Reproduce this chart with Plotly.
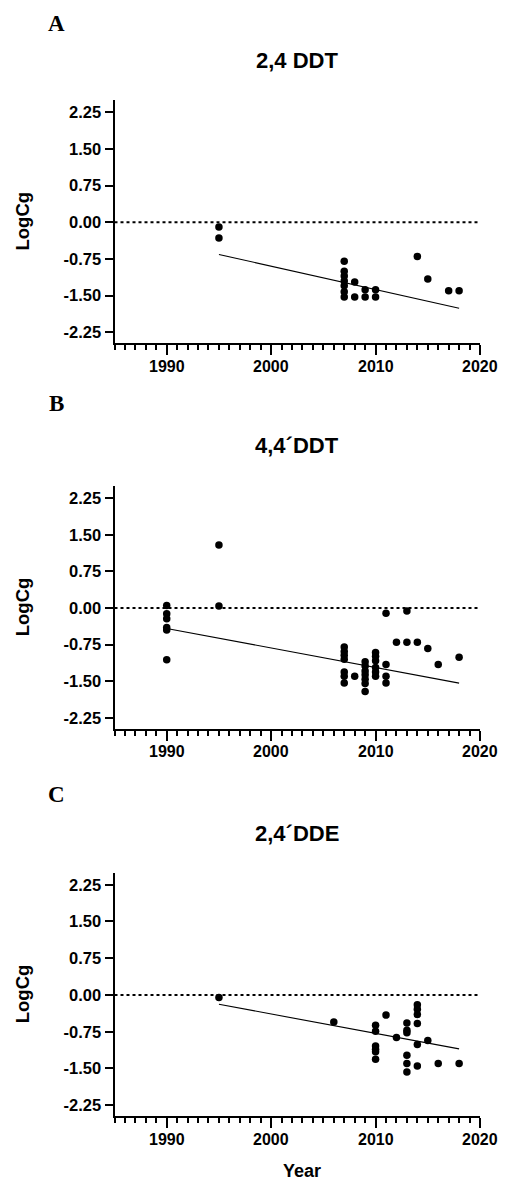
import plotly.graph_objects as go

# ---------------- data ----------------
titles = ["2,4 DDT", "4,4´DDT", "2,4´DDE"]
panel_letters = ["A", "B", "C"]

yearsA = [1995, 1995,
          2007, 2007, 2007, 2007, 2007, 2007, 2007,
          2008, 2008, 2009, 2009, 2010, 2010,
          2014, 2015, 2017, 2018]
logcgA = [-0.10, -0.32,
          -0.80, -1.00, -1.10, -1.20, -1.30, -1.42, -1.53,
          -1.22, -1.53, -1.38, -1.53, -1.38, -1.53,
          -0.70, -1.16, -1.40, -1.40]
fitA_x = [1995, 2018]
fitA_y = [-0.66, -1.76]

yearsB = [1990, 1990, 1990, 1990, 1990, 1990,
          1995, 1995,
          2007, 2007, 2007, 2007, 2007, 2007, 2007,
          2008,
          2009, 2009, 2009, 2009, 2009, 2009, 2009,
          2010, 2010, 2010, 2010, 2010, 2010,
          2011, 2011, 2011, 2011,
          2012, 2013, 2013, 2014, 2015, 2016, 2018]
logcgB = [0.05, -0.12, -0.22, -0.40, -0.45, -1.06,
          1.29, 0.04,
          -0.80, -0.89, -0.97, -1.05, -1.31, -1.40, -1.54,
          -1.40,
          -1.10, -1.19, -1.29, -1.37, -1.46, -1.55, -1.71,
          -0.91, -0.99, -1.08, -1.22, -1.31, -1.40,
          -0.11, -1.16, -1.40, -1.54,
          -0.70, -0.06, -0.70, -0.70, -0.83, -1.16, -1.01]
fitB_x = [1990, 2018]
fitB_y = [-0.42, -1.54]

yearsC = [1995, 2006,
          2010, 2010, 2010, 2010, 2010, 2010,
          2011, 2012,
          2013, 2013, 2013, 2013, 2013, 2013,
          2014, 2014, 2014, 2014, 2014, 2014,
          2015, 2016, 2018]
logcgC = [-0.05, -0.55,
          -0.62, -0.74, -1.04, -1.11, -1.16, -1.31,
          -0.41, -0.87,
          -0.57, -0.72, -0.77, -1.23, -1.40, -1.57,
          -0.20, -0.29, -0.40, -0.58, -1.01, -1.45,
          -0.93, -1.40, -1.40]
fitC_x = [1995, 2018]
fitC_y = [-0.19, -1.10]

reference_level = 0.0
y_ticks = [2.25, 1.50, 0.75, 0.00, -0.75, -1.50, -2.25]
y_ticklabels = ["2.25", "1.50", "0.75", "0.00", "-0.75", "-1.50", "-2.25"]
x_ticks = [1990, 2000, 2010, 2020]
x_range = [1985, 2020]
y_range = [-2.47, 2.50]

panels = [(yearsA, logcgA, fitA_x, fitA_y),
          (yearsB, logcgB, fitB_x, fitB_y),
          (yearsC, logcgC, fitC_x, fitC_y)]

# ---------------- layout geometry (window pixels) ----------------
PAGE_MARGIN = 8            # default body margin of the html page
W, H = 508 - 2 * PAGE_MARGIN, 1191 - 2 * PAGE_MARGIN


def px_x(v):
    return (v - PAGE_MARGIN) / W


def px_y(v):
    return 1 - (v - PAGE_MARGIN) / H


x_dom_px = (114.5, 480.0)
y_dom_px = [(100.0, 343.0), (486.0, 728.5), (872.5, 1116.0)]
title_y_px = [61, 445, 834]
letter_y_px = [24, 404, 795]
ylabel_x_px = 22
xlabel_y_px = 1171
TICKLABEL_GAP = 23         # distance from x-axis line to the centre of year labels

SANS = "Arial, Liberation Sans, sans-serif"
SERIF = "Times New Roman, Liberation Serif, serif"
TICKFONT_X = dict(family=SANS, size=16, color="black", weight="bold")

fig = go.Figure()
annotations = []
layout_axes = {}

for i, (xs, ys, fx, fy) in enumerate(panels):
    n = i + 1
    xa = "x" if n == 1 else f"x{n}"
    ya = "y" if n == 1 else f"y{n}"
    fig.add_trace(go.Scatter(x=xs, y=ys, mode="markers", xaxis=xa, yaxis=ya,
                             marker=dict(color="black", size=7.5),
                             showlegend=False, hoverinfo="x+y"))
    fig.add_trace(go.Scatter(x=fx, y=fy, mode="lines", xaxis=xa, yaxis=ya,
                             line=dict(color="black", width=1.1),
                             showlegend=False, hoverinfo="skip"))
    fig.add_trace(go.Scatter(x=x_range, y=[reference_level, reference_level],
                             mode="lines", xaxis=xa, yaxis=ya,
                             line=dict(color="black", width=1.8, dash="dot"),
                             showlegend=False, hoverinfo="skip"))

    top, bot = y_dom_px[i]
    ydom = [px_y(bot), px_y(top)]
    xdom = [px_x(x_dom_px[0]), px_x(x_dom_px[1])]
    xkey = "xaxis" if n == 1 else f"xaxis{n}"
    ykey = "yaxis" if n == 1 else f"yaxis{n}"
    # year labels drawn as annotations under the axis ticks
    layout_axes[xkey] = dict(
        domain=xdom, anchor=ya, range=x_range,
        tickmode="array", tickvals=x_ticks, showticklabels=False,
        ticks="outside", ticklen=10, tickwidth=2, tickcolor="black",
        showline=True, linewidth=2, linecolor="black",
        showgrid=False, zeroline=False,
        minor=dict(dtick=1, tick0=1985, ticks="outside", ticklen=5,
                   tickwidth=1.5, tickcolor="black", showgrid=False),
    )
    for t in x_ticks:
        annotations.append(dict(text=str(t), x=t, xref=xa,
                                y=px_y(bot + TICKLABEL_GAP), yref="paper",
                                showarrow=False, xanchor="center", yanchor="middle",
                                font=TICKFONT_X))
    layout_axes[ykey] = dict(
        domain=ydom, anchor=xa, range=y_range,
        tickmode="array", tickvals=y_ticks, ticktext=y_ticklabels,
        ticks="outside", ticklen=8, tickwidth=2, tickcolor="black",
        showline=True, linewidth=2, linecolor="black",
        showgrid=False, zeroline=False,
        tickfont=dict(family=SANS, size=16.5, color="black", weight="bold"),
    )
    annotations.append(dict(text=titles[i], x=px_x(297), y=px_y(title_y_px[i]),
                            xref="paper", yref="paper", showarrow=False,
                            xanchor="center", yanchor="middle",
                            font=dict(family=SANS, size=22, color="black", weight="bold")))
    annotations.append(dict(text=panel_letters[i], x=px_x(56), y=px_y(letter_y_px[i]),
                            xref="paper", yref="paper", showarrow=False,
                            xanchor="center", yanchor="middle",
                            font=dict(family=SERIF, size=23, color="black", weight="bold")))
    annotations.append(dict(text="LogCg", x=px_x(ylabel_x_px),
                            y=px_y((top + bot) / 2),
                            xref="paper", yref="paper", showarrow=False,
                            textangle=-90, xanchor="center", yanchor="middle",
                            font=dict(family=SANS, size=18.5, color="black", weight="bold")))

annotations.append(dict(text="Year", x=px_x((x_dom_px[0] + x_dom_px[1]) / 2 + 5),
                        y=px_y(xlabel_y_px),
                        xref="paper", yref="paper", showarrow=False,
                        xanchor="center", yanchor="middle",
                        font=dict(family=SANS, size=18, color="black", weight="bold")))

fig.update_layout(
    width=W, height=H,
    margin=dict(l=0, r=0, t=0, b=0),
    paper_bgcolor="white", plot_bgcolor="white",
    annotations=annotations,
    **layout_axes,
)

fig.write_html("out.html", config={"displayModeBar": False})
